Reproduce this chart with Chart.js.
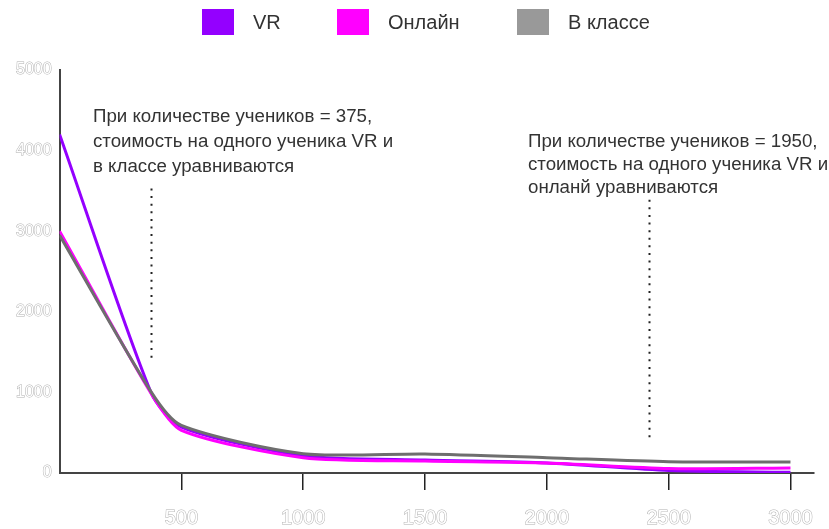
<!DOCTYPE html>
<html>
<head>
<meta charset="utf-8">
<script src="https://cdn.jsdelivr.net/npm/chart.js@4.4.1/dist/chart.umd.min.js"></script>
<style>
  html, body { margin: 0; padding: 0; background: #fff; }
  #wrap { position: relative; width: 829px; height: 529px; }
  #legend { position: absolute; left: 0; top: 0; width: 829px; height: 45px; font-family: "Liberation Sans", Arial, sans-serif; font-size: 20px; color: #333; }
  .item { position: absolute; top: 9px; height: 26px; display: flex; align-items: center; }
  .box { width: 32px; height: 26px; margin-right: 19px; }
</style>
</head>
<body>
<div id="wrap">
  <canvas id="c" width="829" height="529"></canvas>
  <div id="legend"></div>
</div>
<script>
// ---- data ----
const students = [0, 375, 500, 1000, 1500, 2000, 2500, 3000];
const vrCost = [4200, 1000, 570, 215, 160, 125, 30, 8];
const onlineCost = [3000, 990, 530, 190, 150, 125, 55, 62];
const classCost = [2950, 1010, 590, 240, 235, 190, 140, 138];
const seriesNames = ["VR", "Онлайн", "В классе"];
const xTickValues = [500, 1000, 1500, 2000, 2500, 3000];
const yTickValues = [0, 1000, 2000, 3000, 4000, 5000];
const notes = [
  { x: 375, lines: ["При количестве учеников = 375,", "стоимость на одного ученика VR и", "в классе уравниваются"], y0: 3530, y1: 1420 },
  { x: 2420, lines: ["При количестве учеников = 1950,", "стоимость на одного ученика VR и", "онланй уравниваются"], y0: 3390, y1: 400 }
];

const lineColors = ["#9400ff", "#ff00ff", "#6e6e6e"];
const legendColors = ["#9400ff", "#ff00ff", "#999999"];
const legendLeft = [202, 337, 517];

// HTML legend
const lg = document.getElementById('legend');
seriesNames.forEach((n, i) => {
  const d = document.createElement('div');
  d.className = 'item';
  d.style.left = legendLeft[i] + 'px';
  d.innerHTML = '<span class="box" style="background:' + legendColors[i] + '"></span><span>' + n + '</span>';
  lg.appendChild(d);
});

const toPts = arr => students.map((s, i) => ({ x: s, y: arr[i] }));

const notePlugin = {
  id: 'notes',
  afterDatasetsDraw(chart) {
    const { ctx, scales: { x, y } } = chart;
    ctx.save();
    ctx.fillStyle = '#333';
    ctx.font = '18.7px "Liberation Sans", Arial, sans-serif';
    ctx.textBaseline = 'alphabetic';
    const textPos = [{ left: 93, base: 122, lh: 25 }, { left: 528, base: 147, lh: 23 }];
    notes.forEach((n, k) => {
      n.lines.forEach((t, j) => ctx.fillText(t, textPos[k].left, textPos[k].base + j * textPos[k].lh));
    });
    ctx.strokeStyle = '#222';
    ctx.lineWidth = 2;
    ctx.setLineDash([2, 5.6]);
    notes.forEach(n => {
      const px = Math.round(x.getPixelForValue(n.x)) + 0.5;
      ctx.beginPath();
      ctx.moveTo(px, y.getPixelForValue(n.y0));
      ctx.lineTo(px, y.getPixelForValue(n.y1));
      ctx.stroke();
    });
    ctx.restore();
  }
};

const mk = (i, arr, order) => ({
  label: seriesNames[i],
  data: toPts(arr),
  borderColor: lineColors[i],
  backgroundColor: legendColors[i],
  borderWidth: 3,
  pointRadius: 0,
  tension: 0.25,
  fill: false,
  order: order
});

const tickFont = size => ({ family: '"Liberation Sans", Arial, sans-serif', size: size });

new Chart(document.getElementById('c'), {
  type: 'line',
  data: {
    datasets: [mk(0, vrCost, 3), mk(1, onlineCost, 2), mk(2, classCost, 1)]
  },
  options: {
    responsive: false,
    animation: false,
    layout: { padding: { top: 70, right: 9, left: 8, bottom: -17 } },
    plugins: { legend: { display: false }, tooltip: { enabled: false } },
    scales: {
      x: {
        type: 'linear',
        min: 0,
        max: 3095,
        afterBuildTicks: s => { s.ticks = xTickValues.map(v => ({ value: v })); },
        grid: { display: true, drawOnChartArea: false, drawTicks: true, tickLength: 17, color: '#222', lineWidth: 1.5 },
        border: { display: true, color: '#444', width: 2 },
        ticks: {
          color: '#ffffff',
          textStrokeColor: '#b0b0b0',
          textStrokeWidth: 1,
          padding: 16,
          maxRotation: 0,
          callback: v => String(v),
          font: tickFont(20)
        }
      },
      y: {
        min: 0,
        max: 5000,
        afterBuildTicks: s => { s.ticks = yTickValues.map(v => ({ value: v })); },
        grid: { display: true, drawOnChartArea: false, drawTicks: false },
        border: { display: true, color: '#444', width: 2 },
        ticks: {
          color: '#ffffff',
          textStrokeColor: '#b0b0b0',
          textStrokeWidth: 1,
          padding: 8,
          callback: v => String(v),
          font: tickFont(16)
        }
      }
    }
  },
  plugins: [notePlugin]
});
</script>
</body>
</html>
